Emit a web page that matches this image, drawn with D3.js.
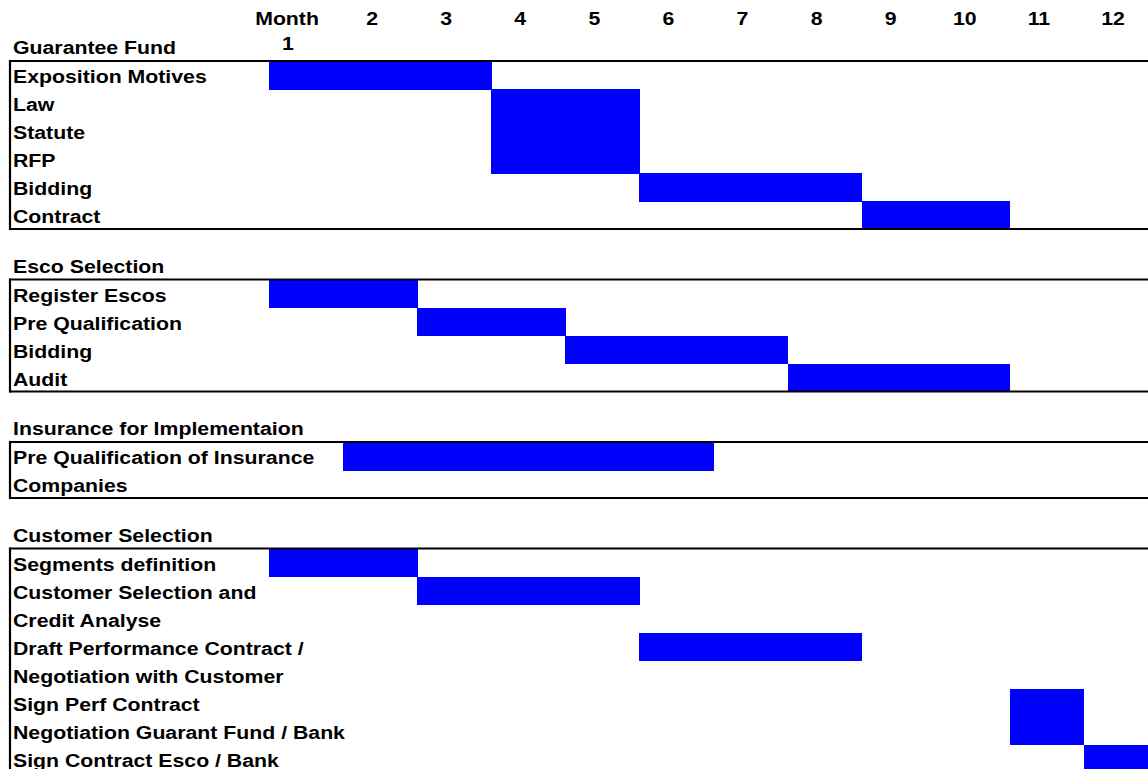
<!DOCTYPE html>
<html>
<head>
<meta charset="utf-8">
<script src="https://cdn.jsdelivr.net/npm/d3@7"></script>
<style>
  html, body { margin: 0; padding: 0; background: #fff; }
  svg { display: block; }
  text { font-family: "Liberation Sans", Arial, sans-serif; font-weight: bold; fill: #000; }
</style>
</head>
<body>
<svg id="chart" width="1148" height="769"></svg>
<script>
// Months of the schedule
const months = [1, 2, 3, 4, 5, 6, 7, 8, 9, 10, 11, 12];

// Section headings
const sectionTitles = ["Guarantee Fund", "Esco Selection", "Insurance for Implementaion", "Customer Selection"];

// Rows of each section: label, first month, last month (null = no bar on that line)
const guaranteeFund = [
  ["Exposition Motives", 1, 3],
  ["Law", 4, 5],
  ["Statute", 4, 5],
  ["RFP", 4, 5],
  ["Bidding", 6, 8],
  ["Contract", 9, 10]
];
const escoSelection = [
  ["Register Escos", 1, 2],
  ["Pre Qualification", 3, 4],
  ["Bidding", 5, 7],
  ["Audit", 8, 10]
];
const insurance = [
  ["Pre Qualification of Insurance", 2, 6],
  ["Companies", null, null]
];
const customerSelection = [
  ["Segments definition", 1, 2],
  ["Customer Selection and", 3, 5],
  ["Credit Analyse", null, null],
  ["Draft Performance Contract /", 6, 8],
  ["Negotiation with Customer", null, null],
  ["Sign Perf Contract", 11, 11],
  ["Negotiation Guarant Fund / Bank", 11, 11],
  ["Sign Contract Esco / Bank", 12, 12]
];

const sections = [guaranteeFund, escoSelection, insurance, customerSelection];

const svg = d3.select("#chart");
const W = 1148;
const rowH = 28;
const gap = 50.5;
const firstTop = 61;
const leftEdge = 10;
const textX = 13;
const fontSize = 19;
const stretch = 1.12;

// Month axis: each month is one equal column
const x = d3.scaleLinear().domain([0, 12]).range([269, 1158]);
const colW = x(1) - x(0);

// Vertical layout of sections
let cursorY = firstTop;
const layout = sections.map((rows, i) => {
  const t = cursorY;
  cursorY += rows.length * rowH + gap;
  return { title: sectionTitles[i], rows, top: t, bottom: t + rows.length * rowH };
});

function label(g, str, tx, ty, anchor) {
  g.append("text")
    .attr("transform", `translate(${tx},${ty}) scale(${stretch},1)`)
    .attr("text-anchor", anchor || "start")
    .style("font-size", fontSize + "px")
    .text(str);
}

// Month header
const header = svg.append("g");
months.forEach(m => {
  const cx = x(m - 1) + colW / 2 - 8;
  if (m === 1) {
    label(header, "Month", cx - 11, 25, "middle");
    label(header, "1", cx - 10, 50, "middle");
  } else {
    label(header, String(m), cx, 25, "middle");
  }
});

layout.forEach(sec => {
  const g = svg.append("g");

  // Task bars (slight overlap so stacked bars read as one block)
  g.selectAll("rect")
    .data(sec.rows.map((r, i) => ({ r, i })).filter(d => d.r[1] !== null))
    .join("rect")
    .attr("x", d => x(d.r[1] - 1))
    .attr("width", d => x(d.r[2]) - x(d.r[1] - 1) + 0.5)
    .attr("y", d => sec.top + d.i * rowH)
    .attr("height", rowH + 0.6)
    .attr("fill", "#0000ff")
    .attr("shape-rendering", "crispEdges");

  // Section title
  label(g, sec.title, textX, sec.top - 7);

  // Row labels
  sec.rows.forEach((r, i) => label(g, r[0], textX, sec.top + i * rowH + 22));

  // Borders
  const line = (x1, y1, x2, y2) => g.append("line")
    .attr("x1", x1).attr("y1", y1).attr("x2", x2).attr("y2", y2)
    .attr("stroke", "#000").attr("stroke-width", 2.2);
  line(leftEdge, sec.top, W + 5, sec.top);
  line(leftEdge, sec.bottom, W + 5, sec.bottom);
  line(leftEdge, sec.top - 1.1, leftEdge, sec.bottom + 1.1);
});
</script>
</body>
</html>
